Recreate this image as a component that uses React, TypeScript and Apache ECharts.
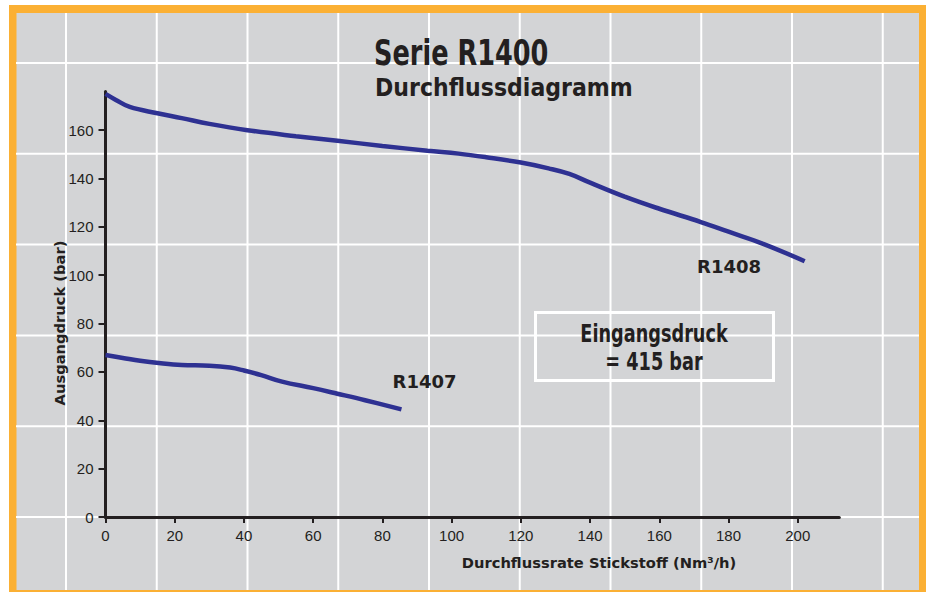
import React, { useEffect, useRef } from "react";
import * as echarts from "echarts";

// Data
const r1408X = [0, 3, 7, 15, 22, 30, 41, 55, 67, 80, 93, 102, 110, 120, 128, 134, 140, 150, 160, 172, 180, 190, 202];
const r1408Y = [175, 172.5, 169.6, 167, 165, 162.6, 160, 157.5, 155.6, 153.5, 151.5, 150.3, 148.8, 146.6, 144.2, 141.9, 138.3, 132.5, 127.5, 122, 118, 113, 105.8];
const r1407X = [0, 5, 10, 16, 22, 30, 36, 40, 45, 51, 60, 67, 75, 85.5];
const r1407Y = [67, 65.8, 64.6, 63.6, 62.9, 62.6, 61.8, 60.6, 58.7, 56, 53.3, 51, 48.3, 44.5];
const xTicks = [0, 20, 40, 60, 80, 100, 120, 140, 160, 180, 200];
const yTicks = [0, 20, 40, 60, 80, 100, 120, 140, 160];
const seriesNames = ["R1408", "R1407"];

const LINE_COLOR = "#2e3192";
const INK = "#231f20";
const COND = "'DejaVu Sans Condensed', 'DejaVu Sans', sans-serif";
const WIDE = "'DejaVu Sans', sans-serif";

export default function App() {
  const ref = useRef<HTMLDivElement>(null);
  useEffect(() => {
    if (!ref.current) return;
    const chart = echarts.init(ref.current, null, { renderer: "svg" });

    const bgLines: any[] = [];
    for (let k = 0; k < 10; k++) {
      const x = 66 + k * 90.75;
      bgLines.push({ type: "line", z: -1, silent: true, shape: { x1: x, y1: 13, x2: x, y2: 590 }, style: { stroke: "#ffffff", lineWidth: 2 } });
    }
    for (let k = 0; k < 6; k++) {
      const y = 63 + k * 90.8;
      bgLines.push({ type: "line", z: -1, silent: true, shape: { x1: 16, y1: y, x2: 919, y2: y }, style: { stroke: "#ffffff", lineWidth: 2 } });
    }

    chart.setOption({
      animation: false,
      backgroundColor: "#ffffff",
      grid: { left: 105.5, right: 86.7, top: 91.5, bottom: 75 },
      xAxis: {
        type: "value",
        min: 0,
        max: 212,
        axisLine: { lineStyle: { color: INK, width: 3 } },
        axisTick: { customValues: xTicks, length: 6, lineStyle: { color: INK, width: 2 } },
        axisLabel: { customValues: xTicks, margin: 11, color: INK, fontSize: 15, fontFamily: "Liberation Sans" },
        splitLine: { show: false },
      },
      yAxis: {
        type: "value",
        min: 0,
        max: 176,
        axisLine: { show: true, lineStyle: { color: INK, width: 3 } },
        axisTick: { show: true, customValues: yTicks, length: 7, lineStyle: { color: INK, width: 2 } },
        axisLabel: { customValues: yTicks, margin: 12, color: INK, fontSize: 15, fontFamily: "Liberation Sans" },
        splitLine: { show: false },
      },
      series: [
        {
          name: seriesNames[0],
          type: "line",
          smooth: 0.4,
          symbol: "none",
          silent: true,
          lineStyle: { color: LINE_COLOR, width: 4.5 },
          data: r1408X.map((x, i) => [x, r1408Y[i]]),
        },
        {
          name: seriesNames[1],
          type: "line",
          smooth: 0.4,
          symbol: "none",
          silent: true,
          lineStyle: { color: LINE_COLOR, width: 4.5 },
          data: r1407X.map((x, i) => [x, r1407Y[i]]),
        },
      ],
      graphic: [
        { type: "rect", z: -2, silent: true, shape: { x: 9, y: 5, width: 917, height: 587 }, style: { fill: "#fbb034" } },
        { type: "rect", z: -2, silent: true, shape: { x: 16.5, y: 13, width: 902.5, height: 577 }, style: { fill: "#d3d4d6" } },
        ...bgLines,
        { type: "text", z: 10, x: 374, y: 53, scaleX: 0.79, style: { text: "Serie R1400", fill: INK, font: `bold 36px ${COND}`, textAlign: "left", textVerticalAlign: "middle" } },
        { type: "text", z: 10, x: 375, y: 88, scaleX: 0.92, style: { text: "Durchflussdiagramm", fill: INK, font: `bold 24px ${WIDE}`, textAlign: "left", textVerticalAlign: "middle" } },
        { type: "text", z: 10, x: 59, y: 323, rotation: Math.PI / 2, style: { text: "Ausgangdruck (bar)", fill: INK, font: `bold 14.7px ${WIDE}`, textAlign: "center", textVerticalAlign: "middle" } },
        { type: "text", z: 10, x: 599, y: 562, style: { text: "Durchflussrate Stickstoff (Nm³/h)", fill: INK, font: `bold 14.7px ${WIDE}`, textAlign: "center", textVerticalAlign: "middle" } },
        { type: "text", z: 10, x: 424.5, y: 381, style: { text: "R1407", fill: INK, font: `bold 18px ${WIDE}`, textAlign: "center", textVerticalAlign: "middle" } },
        { type: "text", z: 10, x: 729, y: 266, style: { text: "R1408", fill: INK, font: `bold 18px ${WIDE}`, textAlign: "center", textVerticalAlign: "middle" } },
        { type: "rect", z: 5, silent: true, shape: { x: 535.5, y: 312.5, width: 238, height: 68 }, style: { fill: "none", stroke: "#ffffff", lineWidth: 3 } },
        { type: "text", z: 10, x: 654, y: 334, scaleX: 0.82, style: { text: "Eingangsdruck", fill: INK, font: `bold 24px ${COND}`, textAlign: "center", textVerticalAlign: "middle" } },
        { type: "text", z: 10, x: 654, y: 362, scaleX: 0.82, style: { text: "= 415 bar", fill: INK, font: `bold 24px ${COND}`, textAlign: "center", textVerticalAlign: "middle" } },
      ],
    });
    return () => chart.dispose();
  }, []);
  return <div ref={ref} style={{ position: "absolute", left: 0, top: 0, width: 926, height: 592 }} />;
}
